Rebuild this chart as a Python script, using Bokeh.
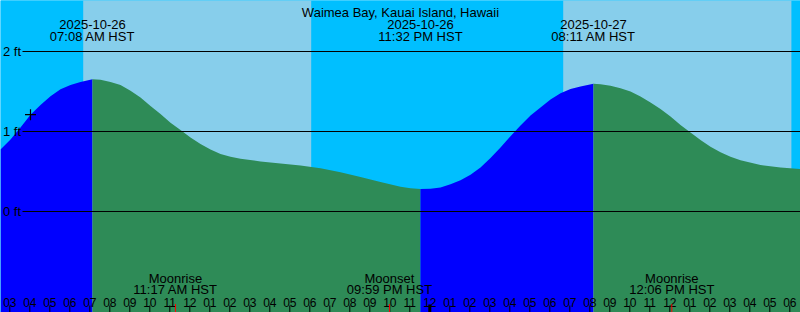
from bokeh.plotting import figure
from bokeh.embed import file_html
from bokeh.resources import INLINE
from bokeh.core.properties import value

# ---------------- data (hours since 2025-10-26 00:00 HST) ----------------
station = "Waimea Bay, Kauai Island, Hawaii"

tide_hours = [2.535, 3.035, 3.535, 4.035, 4.535, 5.035, 5.535, 6.035, 6.535, 7.133,
              7.535, 8.035, 8.535, 9.035, 9.535, 10.035, 10.535, 11.035, 11.535, 12.035,
              12.535, 13.035, 13.535, 14.035, 14.535, 15.535,
              16.535, 17.535, 18.535, 19.535, 20.535, 21.535, 22.535, 23.035, 23.533,
              24.035, 24.535, 25.035, 25.535, 26.035, 26.535, 27.035, 27.535, 28.035,
              28.535, 29.035, 29.535, 30.035, 30.535, 31.035, 31.535, 32.183,
              32.535, 33.035, 33.535, 34.035, 34.535, 35.035, 35.535, 36.035, 36.535,
              37.035, 37.535, 38.035, 38.535, 39.035, 39.535,
              40.535, 41.535, 42.535]
tide_feet = [0.775, 0.90, 1.05, 1.21, 1.33, 1.44, 1.529, 1.58, 1.62, 1.654,
             1.646, 1.62, 1.58, 1.51, 1.425, 1.32, 1.22, 1.11, 1.02, 0.925,
             0.845, 0.775, 0.72, 0.685, 0.66, 0.625,
             0.60, 0.575, 0.54, 0.49, 0.43, 0.37, 0.31, 0.29, 0.28,
             0.285, 0.30, 0.34, 0.39, 0.46, 0.55, 0.67, 0.80, 0.94,
             1.075, 1.20, 1.30, 1.40, 1.479, 1.53, 1.5625, 1.596,
             1.59, 1.571, 1.54, 1.50, 1.4375, 1.3625, 1.28, 1.1875, 1.08,
             0.9875, 0.895, 0.81, 0.74, 0.685, 0.64,
             0.58, 0.55, 0.53]

extreme_hours = [7.133, 23.533, 32.183]
extreme_dates = ["2025-10-26", "2025-10-26", "2025-10-27"]
extreme_times = ["07:08 AM HST", "11:32 PM HST", "08:11 AM HST"]

sunrise_hours = [6.67, 30.67]
sunset_hours = [18.07, 42.08]

moon_hours = [11.283, 21.983, 36.1]
moon_events = ["Moonrise", "Moonset", "Moonrise"]
moon_times = ["11:17 AM HST", "09:59 PM HST", "12:06 PM HST"]

level_feet = [2, 1, 0]
level_labels = ["2 ft", "1 ft", "0 ft"]

hour_ticks = list(range(3, 43))
hour_labels = ["03", "04", "05", "06", "07", "08", "09", "10", "11", "12",
               "01", "02", "03", "04", "05", "06", "07", "08", "09", "10", "11", "12",
               "01", "02", "03", "04", "05", "06", "07", "08", "09", "10", "11", "12",
               "01", "02", "03", "04", "05", "06"]
midnight_hours = [24]

now_hour = 4.035
now_feet = 1.21

# ---------------- layout ----------------
W, H = 800, 312
PX_PER_HOUR = 20.0
PX_PER_FOOT = 80.0
ZERO_PX = 211.0
x0 = tide_hours[0]
x1 = x0 + W / PX_PER_HOUR
y_top = ZERO_PX / PX_PER_FOOT
y_bot = -(H - ZERO_PX) / PX_PER_FOOT


def ypx(py):
    return (ZERO_PX - py) / PX_PER_FOOT


def xpx(px):
    return x0 + px / PX_PER_HOUR


FONT = value("Liberation Sans")
NIGHT = "#00BFFF"
DAY = "#87CEEB"
FLOOD = "#0000FF"
EBB = "#2E8B57"

p = figure(width=W, height=H, x_range=(x0, x1), y_range=(y_bot, y_top),
           output_backend="svg", toolbar_location=None,
           min_border=0, min_border_left=0, min_border_right=0,
           min_border_top=0, min_border_bottom=0)
p.xaxis.visible = False
p.yaxis.visible = False
p.grid.visible = False
p.outline_line_color = None
p.background_fill_color = NIGHT
p.border_fill_color = NIGHT

# background night / day
p.quad(left=[x0], right=[x1], bottom=[y_bot - 1], top=[y_top + 1],
       fill_color=NIGHT, line_color=None)
p.quad(left=sunrise_hours, right=sunset_hours,
       bottom=[y_bot - 1] * len(sunrise_hours), top=[y_top + 1] * len(sunrise_hours),
       fill_color=DAY, line_color=None)

# tide fill, split at extremes
bounds = [0] + [tide_hours.index(h) for h in extreme_hours] + [len(tide_hours) - 1]
for k in range(len(bounds) - 1):
    a, b = bounds[k], bounds[k + 1]
    xs = tide_hours[a:b + 1]
    ys = tide_feet[a:b + 1]
    rising = ys[-1] > ys[0]
    p.varea(x=xs, y1=[y_bot - 1] * len(xs), y2=ys,
            fill_color=FLOOD if rising else EBB)

# level lines & labels
line_start = xpx(22)
p.segment(x0=[line_start] * len(level_feet), y0=level_feet,
          x1=[x1] * len(level_feet), y1=level_feet, line_color="black", line_width=1)
p.text(x=[xpx(2.5)] * len(level_feet), y=level_feet, text=level_labels,
       text_font=FONT, text_font_size="13px", text_color="black",
       text_align="left", text_baseline="middle")

# title and extremes labels
p.text(x=[(x0 + x1) / 2], y=[ypx(12.3)], text=[station], text_font=FONT,
       text_font_size="13px", text_color="black", text_align="center",
       text_baseline="alphabetic")
p.text(x=extreme_hours, y=[ypx(23.5)] * 3, text=extreme_dates, text_font=FONT,
       text_font_size="13px", text_color="black", text_align="center",
       text_baseline="alphabetic")
p.text(x=extreme_hours, y=[ypx(35.5)] * 3, text=extreme_times, text_font=FONT,
       text_font_size="13px", text_color="black", text_align="center",
       text_baseline="alphabetic")

# moon labels
p.text(x=moon_hours, y=[ypx(278.3)] * 3, text=moon_events, text_font=FONT,
       text_font_size="13px", text_color="black", text_align="center",
       text_baseline="alphabetic")
p.text(x=moon_hours, y=[ypx(289.3)] * 3, text=moon_times, text_font=FONT,
       text_font_size="13px", text_color="black", text_align="center",
       text_baseline="alphabetic")

# hour labels and ticks
p.text(x=hour_ticks, y=[ypx(301.7)] * len(hour_ticks), text=hour_labels,
       text_font=FONT, text_font_size="12px", text_color="black",
       text_align="center", text_baseline="alphabetic")
p.segment(x0=hour_ticks, y0=[ypx(305)] * len(hour_ticks),
          x1=hour_ticks, y1=[y_bot - 0.1] * len(hour_ticks),
          line_color="black", line_width=1)
p.segment(x0=midnight_hours, y0=[ypx(304)] * len(midnight_hours),
          x1=midnight_hours, y1=[y_bot - 0.1] * len(midnight_hours),
          line_color="black", line_width=3)
p.segment(x0=moon_hours, y0=[ypx(303.5)] * len(moon_hours),
          x1=moon_hours, y1=[y_bot - 0.1] * len(moon_hours),
          line_color="red", line_width=1)

# current-time marker
p.scatter(x=[now_hour], y=[now_feet], marker="cross", size=11,
          line_color="black", line_width=1.2)

open("out.html", "w").write(file_html(p, INLINE))
